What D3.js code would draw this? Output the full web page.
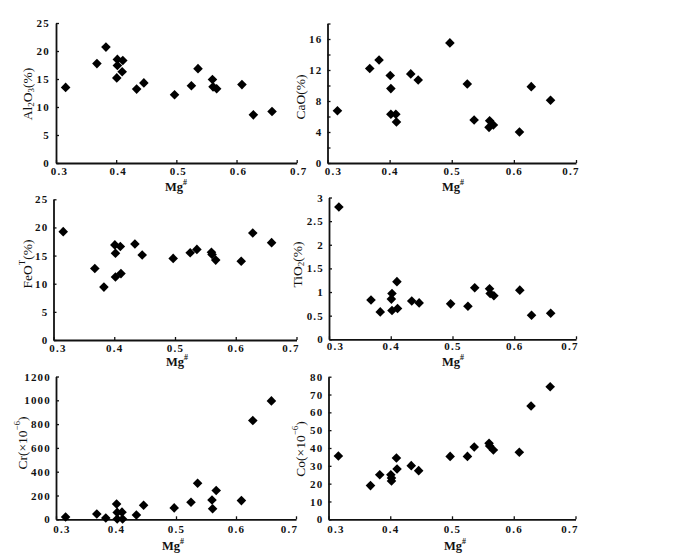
<!DOCTYPE html>
<html>
<head>
<meta charset="utf-8">
<script src="https://cdn.jsdelivr.net/npm/d3@7"></script>
<style>
  html, body { margin: 0; padding: 0; background: #ffffff; }
  svg { display: block; }
  .tick text { font-family: "Liberation Serif", "DejaVu Serif", serif; font-weight: bold; font-size: 11px; letter-spacing: 1.2px; fill: #111; }
  .axis path, .axis line { stroke: #111; }
  .axis path { stroke-width: 1.8px; }
  .axis line { stroke-width: 1.3px; }
</style>
</head>
<body>
<svg id="chart" width="678" height="559"></svg>
<script>
// ---- data ----
const mgNumber = [0.316, 0.368, 0.383, 0.401, 0.402, 0.402, 0.410, 0.411, 0.434, 0.446, 0.497, 0.525, 0.536, 0.560, 0.561, 0.567, 0.609, 0.628, 0.659];
const al2o3 = [13.5, 17.75, 20.7, 15.2, 18.5, 17.4, 16.3, 18.3, 13.2, 14.3, 12.2, 13.8, 16.85, 14.9, 13.6, 13.25, 14.0, 8.6, 9.2];
const cao   = [6.75, 12.2, 13.3, 11.3, 9.6, 6.3, 6.3, 5.3, 11.5, 10.7, 15.5, 10.2, 5.55, 4.6, 5.45, 4.9, 4.0, 9.85, 8.1];
const feoT  = [19.25, 12.7, 9.4, 16.9, 15.4, 11.2, 16.6, 11.8, 17.05, 15.1, 14.5, 15.5, 16.1, 15.6, 15.2, 14.2, 14.0, 19.0, 17.3];
const tio2  = [2.80, 0.83, 0.58, 0.85, 0.97, 0.61, 1.22, 0.65, 0.81, 0.77, 0.75, 0.70, 1.09, 1.07, 0.97, 0.92, 1.04, 0.51, 0.55];
const cr    = [19, 44, 11, 129, 58, 3, 60, 3, 36, 118, 96, 143, 303, 162, 88, 242, 157, 830, 995];
const co    = [35.5, 18.9, 25.0, 25.0, 23.2, 21.5, 34.4, 28.2, 30.1, 27.3, 35.3, 35.3, 40.6, 42.6, 41.1, 38.9, 37.6, 63.6, 74.4];

const xTicks = [0.3, 0.4, 0.5, 0.6, 0.7];
const al2o3Ticks = [0, 5, 10, 15, 20, 25];
const caoTicks = [0, 2, 4, 6, 8, 10, 12, 14, 16, 18];
const caoLabelled = [0, 4, 8, 12, 16];
const feoTicks = [0, 5, 10, 15, 20, 25];
const tio2Ticks = [0, 0.5, 1, 1.5, 2, 2.5, 3];
const crTicks = [0, 200, 400, 600, 800, 1000, 1200];
const coTicks = [0, 10, 20, 30, 40, 50, 60, 70, 80];

// y-axis titles as [text, shift] pieces: shift "sub" / "sup" / null
const al2o3Title = [["Al", null], ["2", "sub"], ["O", null], ["3", "sub"], ["(%)", null]];
const caoTitle = [["CaO(%)", null]];
const feoTitle = [["FeO", null], ["T", "sup"], ["(%)", null]];
const tio2Title = [["TiO", null], ["2", "sub"], ["(%)", null]];
const crTitle = [["Cr(×10", null], ["−6", "sup"], [")", null]];
const coTitle = [["Co(×10", null], ["−6", "sup"], [")", null]];

// ---- layout ----
const panels = [
  { values: al2o3, ticks: al2o3Ticks, labelled: al2o3Ticks, domain: [0, 25], title: al2o3Title,
    xr: [56, 296.7], yr: [163, 23], ytx: 27, yty: 94, mgx: 176, mgy: 186.5, xpad: 4, ypad: 6,
    shiftAll: 1.5, shiftFirst: 1.5, shiftLast: 0, fmt: d3.format("d") },
  { values: cao, ticks: caoTicks, labelled: caoLabelled, domain: [0, 18], title: caoTitle,
    xr: [327.5, 576], yr: [163, 23.5], ytx: 300, yty: 97, mgx: 453, mgy: 186.5, xpad: 4, ypad: 5,
    shiftAll: 0, shiftFirst: 5.5, shiftLast: -5.5, fmt: d3.format("d") },
  { values: feoT, ticks: feoTicks, labelled: feoTicks, domain: [0, 25], title: feoTitle,
    xr: [53.5, 296.5], yr: [340, 199.3], ytx: 27, yty: 264, mgx: 177, mgy: 362, xpad: 4, ypad: 5,
    shiftAll: 0, shiftFirst: 4, shiftLast: -6, fmt: d3.format("d") },
  { values: tio2, ticks: tio2Ticks, labelled: tio2Ticks, domain: [0, 3], title: tio2Title,
    xr: [329, 576], yr: [339.3, 197.5], ytx: 297, yty: 264.5, mgx: 453, mgy: 362, xpad: 3, ypad: 5,
    shiftAll: 0, shiftFirst: 6, shiftLast: -6.5, fmt: d => String(d) },
  { values: cr, ticks: crTicks, labelled: crTicks, domain: [0, 1200], title: crTitle,
    xr: [56, 296], yr: [519.3, 376.5], ytx: 22, yty: 443, mgx: 173, mgy: 545.5, xpad: 6, ypad: 5,
    shiftAll: 0, shiftFirst: 5.5, shiftLast: -7, fmt: d3.format("d") },
  { values: co, ticks: coTicks, labelled: coTicks, domain: [0, 80], title: coTitle,
    xr: [328.5, 575.5], yr: [519.3, 376.7], ytx: 300, yty: 449, mgx: 455, mgy: 545.5, xpad: 6, ypad: 5,
    shiftAll: 0, shiftFirst: 7, shiftLast: -6, fmt: d3.format("d") }
];

const svg = d3.select("#chart");
const diamond = d3.symbol().type(d3.symbolSquare).size(46);
const serif = '"Liberation Serif", "DejaVu Serif", serif';

panels.forEach(p => {
  const x = d3.scaleLinear().domain([0.3, 0.7]).range(p.xr);
  const y = d3.scaleLinear().domain(p.domain).range(p.yr);
  const g = svg.append("g");

  // y axis
  g.append("g").attr("class", "axis")
    .attr("transform", `translate(${p.xr[0]},0)`)
    .call(d3.axisLeft(y).tickValues(p.ticks).tickSizeInner(-3).tickSizeOuter(0).tickPadding(p.ypad)
      .tickFormat(d => p.labelled.includes(d) ? p.fmt(d) : ""));

  // x axis
  const xa = g.append("g").attr("class", "axis")
    .attr("transform", `translate(0,${p.yr[0]})`)
    .call(d3.axisBottom(x).tickValues(xTicks).tickSizeInner(-3).tickSizeOuter(0).tickPadding(p.xpad)
      .tickFormat(d3.format(".1f")));
  xa.selectAll(".tick text")
    .attr("dx", (d, i, n) => p.shiftAll + (i === 0 ? p.shiftFirst : 0) + (i === n.length - 1 ? p.shiftLast : 0));

  // points
  g.append("g").selectAll("path")
    .data(mgNumber.map((m, i) => [m, p.values[i]]))
    .join("path")
    .attr("d", diamond)
    .attr("fill", "#000")
    .attr("transform", d => `translate(${x(d[0])},${y(d[1])}) rotate(45)`);

  // y title
  const yt = g.append("text")
    .attr("transform", `translate(${p.ytx},${p.yty}) rotate(-90)`)
    .attr("text-anchor", "middle")
    .attr("dominant-baseline", "central")
    .attr("font-family", serif)
    .attr("font-size", 13.5)
    .attr("fill", "#111");
  let shifted = 0;
  p.title.forEach(([t, s]) => {
    const sp = yt.append("tspan").text(t);
    let dy = 0;
    if (s === "sub") { dy = 4 - shifted; shifted = 4; sp.attr("font-size", 9); }
    else if (s === "sup") { dy = -5 - shifted; shifted = -5; sp.attr("font-size", 9); }
    else { dy = -shifted; shifted = 0; }
    if (dy) sp.attr("dy", dy);
  });

  // x title Mg#
  const mt = g.append("text")
    .attr("x", p.mgx).attr("y", p.mgy)
    .attr("text-anchor", "middle")
    .attr("dominant-baseline", "central")
    .attr("font-family", serif)
    .attr("font-weight", "bold")
    .attr("font-size", 12.5)
    .attr("fill", "#111");
  mt.append("tspan").text("Mg");
  mt.append("tspan").text("#").attr("font-size", 8).attr("dy", -5);
});
</script>
</body>
</html>
